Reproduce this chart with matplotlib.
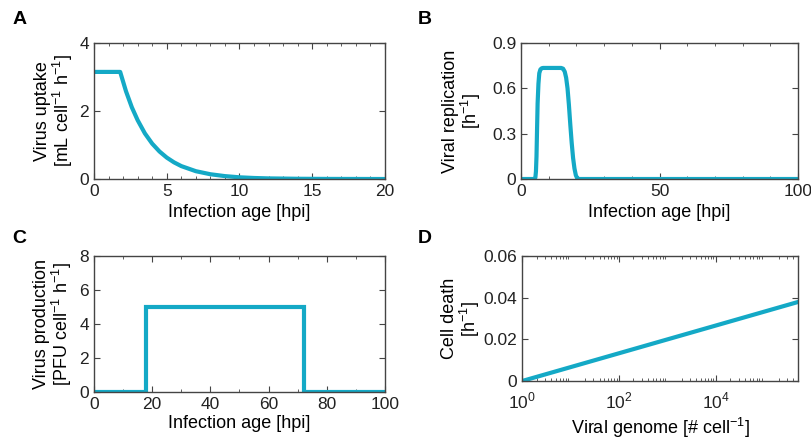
import matplotlib
matplotlib.use("Agg")
import numpy as np
import matplotlib.pyplot as plt
from matplotlib.ticker import MultipleLocator, LogLocator, NullFormatter

plt.rcParams['font.family'] = ['Liberation Sans', 'DejaVu Sans']
plt.rcParams['mathtext.fontset'] = 'custom'
plt.rcParams['mathtext.rm'] = 'Liberation Sans'

LINE = '#14A9C6'
AXC = '#444444'

# A: virus uptake vs infection age
a_age = [0, 1.8, 2.2, 2.6, 3.0, 3.5, 4.0, 4.5, 5.0, 5.5, 6.0, 7.0, 8.0, 9.0, 10.0, 11.0, 12.0, 14.0, 16.0, 20.0]
a_uptake = [3.15, 3.15, 2.58, 2.11, 1.73, 1.34, 1.04, 0.81, 0.63, 0.49, 0.38, 0.23, 0.14, 0.085, 0.05, 0.03, 0.018, 0.007, 0.003, 0.0]

# B: viral replication vs infection age
b_age = [0, 4.9, 5.2, 5.4, 5.6, 5.8, 6.0, 6.3, 6.6, 7.0, 7.5, 8.0, 14.5, 15.2, 15.8, 16.3, 16.8, 17.3, 17.8, 18.3,
         18.8, 19.3, 19.8, 20.3, 21.0, 100]
b_rep = [0, 0, 0.01, 0.05, 0.15, 0.33, 0.50, 0.63, 0.70, 0.725, 0.733, 0.735, 0.735, 0.73, 0.71, 0.67, 0.60, 0.49,
         0.36, 0.24, 0.14, 0.07, 0.025, 0.005, 0.0, 0.0]

# C: virus production vs infection age (step)
c_age = [0, 18, 18, 72, 72, 100]
c_prod = [0, 0, 5, 5, 0, 0]

# D: cell death vs viral genome (log x)
d_genome = [1, 5e5]
d_death = [0, 0.038]


def style(ax):
    for s in ax.spines.values():
        s.set_color(AXC)
        s.set_linewidth(1.0)
    ax.tick_params(which='both', direction='in', top=True, right=True,
                   colors=AXC, labelcolor='#222222', labelsize=12.5)
    ax.tick_params(which='major', length=4)
    ax.tick_params(which='minor', length=2.5)


fig = plt.figure(figsize=(8.11, 4.38), dpi=100)

axA = fig.add_axes([0.1159, 0.5913, 0.3588, 0.3105])
axB = fig.add_axes([0.6424, 0.5913, 0.3416, 0.3105])
axC = fig.add_axes([0.1159, 0.105, 0.3588, 0.3105])
axD = fig.add_axes([0.6436, 0.130, 0.3403, 0.285])

axA.plot(a_age, a_uptake, color=LINE, lw=3, solid_joinstyle='round')
axA.set_xlim(0, 20)
axA.set_ylim(0, 4)
axA.xaxis.set_major_locator(MultipleLocator(5))
axA.xaxis.set_minor_locator(MultipleLocator(1))
axA.yaxis.set_major_locator(MultipleLocator(2))
axA.set_xlabel('Infection age [hpi]', fontsize=13, labelpad=4)
axA.set_ylabel('Virus uptake\n[mL cell$^{-1}$ h$^{-1}$]', fontsize=13, linespacing=1.0)
axA.yaxis.set_label_coords(-0.065, 0.5)

axB.plot(b_age, b_rep, color=LINE, lw=3, solid_joinstyle='round')
axB.set_xlim(0, 100)
axB.set_ylim(0, 0.9)
axB.xaxis.set_major_locator(MultipleLocator(50))
axB.xaxis.set_minor_locator(MultipleLocator(10))
axB.set_yticks([0, 0.3, 0.6, 0.9], ['0', '0.3', '0.6', '0.9'])
axB.set_xlabel('Infection age [hpi]', fontsize=13, labelpad=4)
axB.set_ylabel('Viral replication\n[h$^{-1}$]', fontsize=13, linespacing=1.0)
axB.yaxis.set_label_coords(-0.137, 0.5)

axC.plot(c_age, c_prod, color=LINE, lw=3, solid_joinstyle='miter')
axC.set_xlim(0, 100)
axC.set_ylim(0, 8)
axC.xaxis.set_major_locator(MultipleLocator(20))
axC.xaxis.set_minor_locator(MultipleLocator(10))
axC.yaxis.set_major_locator(MultipleLocator(2))
axC.set_xlabel('Infection age [hpi]', fontsize=13, labelpad=2)
axC.set_ylabel('Virus production\n[PFU cell$^{-1}$ h$^{-1}$]', fontsize=13, linespacing=1.0)
axC.yaxis.set_label_coords(-0.069, 0.5)

axD.plot(d_genome, d_death, color=LINE, lw=3)
axD.set_xscale('log')
axD.set_xlim(1, 5e5)
axD.set_ylim(0, 0.06)
axD.set_xticks([1, 1e2, 1e4], ['$10^0$', '$10^2$', '$10^4$'])
axD.xaxis.set_minor_locator(LogLocator(base=10, subs=np.arange(2, 10), numticks=20))
axD.xaxis.set_minor_formatter(NullFormatter())
axD.set_yticks([0, 0.02, 0.04, 0.06], ['0', '0.02', '0.04', '0.06'])
axD.set_xlabel('Viral genome [# cell$^{-1}$]', fontsize=13, labelpad=3)
axD.set_ylabel('Cell death\n[h$^{-1}$]', fontsize=13, linespacing=1.0)
axD.yaxis.set_label_coords(-0.145, 0.5)

for ax in (axA, axB, axC, axD):
    style(ax)
axD.tick_params(axis='x', which='major', pad=7)

for lab, x, y in [('A', 0.015, 0.955), ('B', 0.515, 0.955), ('C', 0.015, 0.455), ('D', 0.515, 0.455)]:
    fig.text(x, y, lab, fontsize=14, fontweight='bold', va='center', ha='left')

fig.savefig('out.png', dpi=100)
